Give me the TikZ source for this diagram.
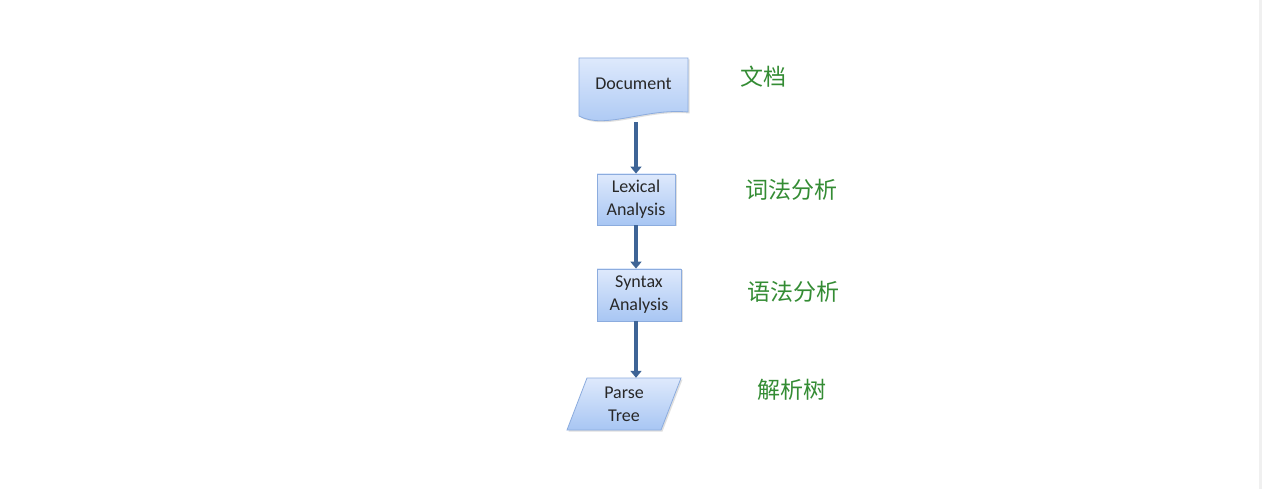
\documentclass[tikz,border=0pt]{standalone}
\usepackage{fontspec}
\setmainfont{Carlito}
\newfontfamily\cjk{Noto Sans CJK SC}
\usetikzlibrary{arrows.meta,calc,shadows}
\definecolor{arrblue}{RGB}{62,100,150}
\definecolor{boxedge}{RGB}{140,172,222}
\definecolor{boxtop}{RGB}{222,233,252}
\definecolor{boxbot}{RGB}{168,198,243}
\definecolor{lblgreen}{RGB}{52,140,52}
\definecolor{txtgray}{RGB}{40,40,40}
\tikzset{
  shapetext/.style={draw=none, align=center, text=txtgray, inner sep=0pt,
    font=\fontsize{18}{23}\selectfont},
  boxstyle/.style={shapetext, draw=boxedge, line width=0.8pt, top color=boxtop, bottom color=boxbot,
    drop shadow={shadow xshift=1.5pt, shadow yshift=-1.5pt, opacity=0.25}},
  shapefill/.style={draw=boxedge, line width=0.8pt, top color=boxtop, bottom color=boxbot,
    drop shadow={shadow xshift=1.5pt, shadow yshift=-1.5pt, opacity=0.25}},
  arr/.style={draw=arrblue, line width=4pt, -{Triangle[width=11pt,length=7pt]}},
  lbl/.style={text=lblgreen, font=\cjk\fontsize{23}{27}\selectfont, inner sep=0pt}
}
\begin{document}
\begin{tikzpicture}[x=1pt,y=-1pt]
\useasboundingbox (0,0) rectangle (1262,489);
\fill[white] (0,0) rectangle (1262,489);
\fill[black!6] (1259,0) rectangle (1262,489);
% document shape
\path[shapefill] (579,58) -- (688,58) -- (688,112) .. controls (645,108) and (605,130) .. (579,116) -- cycle;
\node[shapetext, minimum width=109pt, minimum height=52pt] (doc) at (633.5,84) {Document};
\coordinate (d0) at ($(doc.south)+(0,12)$);
% boxes
\node[boxstyle, minimum width=78pt, minimum height=51pt] (lex) at (636,199.5) {Lexical\\Analysis};
\node[boxstyle, minimum width=84pt, minimum height=52pt] (syn) at (639,295) {Syntax\\Analysis};
% parallelogram
\path[shapefill] (587,378) -- (681,378) -- (661,430) -- (567,430) -- cycle;
\node[shapetext, minimum width=94pt, minimum height=52pt] (tree) at (624,404) {Parse\\Tree};
% arrows
\draw[arr] (lex.north |- d0) -- (lex.north);
\draw[arr] (lex.south) -- (lex.south |- syn.north);
\draw[arr] (lex.south |- syn.south) -- (lex.south |- tree.north);
% labels
\node[lbl] (l1) at (763,77) {文档};
\node[lbl] (l2) at (791,190) {词法分析};
\node[lbl] (l3) at (793,292) {语法分析};
\node[lbl] (l4) at (792,390) {解析树};
\end{tikzpicture}
\end{document}
